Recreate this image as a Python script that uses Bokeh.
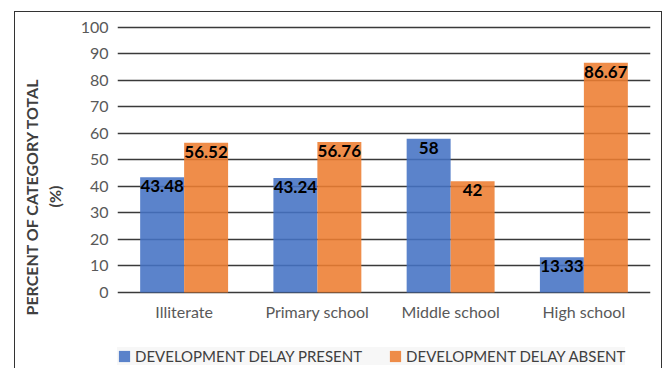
from bokeh.plotting import figure
from bokeh.models import ColumnDataSource, LabelSet, Legend, LegendItem, FactorRange
from bokeh.core.properties import value
from bokeh.transform import dodge
from bokeh.embed import file_html
from bokeh.resources import INLINE

categories = ["Illiterate", "Primary school", "Middle school", "High school"]
delay_present = [43.48, 43.24, 58, 13.33]
delay_absent = [56.52, 56.76, 42, 86.67]
present_labels = ["43.48", "43.24", "58", "13.33"]
absent_labels = ["56.52", "56.76", "42", "86.67"]
y_ticks = [0, 10, 20, 30, 40, 50, 60, 70, 80, 90, 100]

FONT = "Lato"
BLUE = "#4472C4"
ORANGE = "#ED7D31"

src = ColumnDataSource(dict(cat=categories, pres=delay_present, abs=delay_absent,
                            plab=present_labels, alab=absent_labels))

p = figure(width=646, height=358, frame_width=533, frame_height=344,
           x_range=FactorRange(*categories, range_padding=0),
           y_range=(-28.68, 101.13), output_backend="svg", toolbar_location=None,
           min_border_left=102, min_border_right=11, min_border_top=12, min_border_bottom=0)
p.margin = (11, 0, 0, 14)
p.styles = {"border-top": "1px solid #333", "border-left": "1px solid #333",
            "border-right": "1px solid #333"}
p.outline_line_color = None
p.background_fill_color = "white"
p.border_fill_color = "white"

rp = p.vbar(x=dodge("cat", -0.165, range=p.x_range), top="pres", width=0.33, source=src,
            fill_color=BLUE, fill_alpha=0.88, line_color=None)
ra = p.vbar(x=dodge("cat", 0.165, range=p.x_range), top="abs", width=0.33, source=src,
            fill_color=ORANGE, fill_alpha=0.88, line_color=None)

for col, lab, off in (("pres", "plab", -0.165), ("abs", "alab", 0.165)):
    ls = LabelSet(x=dodge("cat", off, range=p.x_range), y=col, text=lab, source=src,
                  text_align="center", text_baseline="top", y_offset=-3,
                  text_font=value(FONT), text_font_style="bold", text_font_size="17px",
                  text_color="black")
    p.add_layout(ls)

p.ygrid.grid_line_color = "#3a3a3a"
p.ygrid.grid_line_width = 1.6
p.ygrid.ticker = y_ticks
p.xgrid.grid_line_color = None

p.yaxis.ticker = y_ticks
p.yaxis.axis_line_color = None
p.yaxis.major_tick_line_color = None
p.yaxis.minor_tick_line_color = None
p.yaxis.major_tick_out = 0
p.yaxis.major_label_text_font = FONT
p.yaxis.major_label_text_font_size = "16px"
p.yaxis.major_label_text_color = "#595959"
p.yaxis.major_label_standoff = 9
p.yaxis.axis_label = "PERCENT OF CATEGORY TOTAL\n(%)"
p.yaxis.axis_label_text_font = FONT
p.yaxis.axis_label_text_font_style = "bold"
p.yaxis.axis_label_text_font_size = "16px"
p.yaxis.axis_label_text_color = "#404040"
p.yaxis.axis_label_standoff = 14

p.xaxis.fixed_location = 0
p.xaxis.axis_line_color = None
p.xaxis.major_tick_line_color = None
p.xaxis.major_label_text_font = FONT
p.xaxis.major_label_text_font_size = "16px"
p.xaxis.major_label_text_color = "#595959"
p.xaxis.major_label_standoff = 4

legend = Legend(items=[LegendItem(label="DEVELOPMENT DELAY PRESENT", renderers=[rp]),
                       LegendItem(label="DEVELOPMENT DELAY ABSENT", renderers=[ra])],
                orientation="horizontal", location=(0, 3),
                label_text_font=FONT, label_text_font_size="15px", label_text_color="#404040",
                glyph_width=14, glyph_height=14, spacing=26, label_standoff=4,
                background_fill_color="#f7f7f7", border_line_color=None, padding=3, margin=0)
p.add_layout(legend, "center")

open("out.html", "w").write(file_html(p, INLINE))
